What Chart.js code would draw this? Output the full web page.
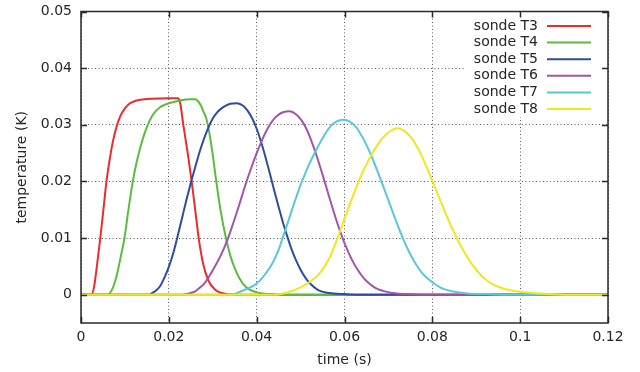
<!DOCTYPE html>
<html>
<head>
<meta charset="utf-8">
<script src="https://cdn.jsdelivr.net/npm/chart.js@4.4.0/dist/chart.umd.min.js"></script>
<style>
  html, body { margin: 0; padding: 0; background: #fff; }
  #wrap { width: 640px; height: 372px; }
</style>
</head>
<body>
<div id="wrap"><canvas id="chart" width="640" height="372"></canvas></div>
<script>
// tick values and labels
const xTicks = [0, 0.02, 0.04, 0.06, 0.08, 0.1, 0.12];
const xTickLabels = ['0', '0.02', '0.04', '0.06', '0.08', '0.1', '0.12'];
const yTicks = [0, 0.01, 0.02, 0.03, 0.04, 0.05];
const yTickLabels = ['0', '0.01', '0.02', '0.03', '0.04', '0.05'];

const seriesLabels = ['sonde T3', 'sonde T4', 'sonde T5', 'sonde T6', 'sonde T7', 'sonde T8'];
const seriesColors = ['#ee2a2a', '#5cbc3c', '#2f4c9e', '#a454a6', '#58c8d9', '#eee81e'];

// readings (time in s, temperature in K)
const t3Time = [0, 0.0024, 0.003, 0.0036, 0.004, 0.0044, 0.0051, 0.0058, 0.0065, 0.0072, 0.008, 0.009, 0.010, 0.011, 0.012, 0.0135, 0.016, 0.020, 0.0221, 0.0223, 0.0226, 0.0233, 0.0243, 0.0252, 0.026, 0.0268, 0.0278, 0.029, 0.0305, 0.032, 0.035, 0.12];
const t3Temp = [0, 0, 0.0015, 0.0049, 0.0075, 0.010, 0.015, 0.020, 0.0237, 0.0268, 0.0294, 0.0316, 0.0329, 0.0337, 0.0341, 0.0344, 0.0346, 0.0347, 0.0347, 0.0345, 0.0338, 0.030, 0.025, 0.020, 0.015, 0.010, 0.0055, 0.0025, 0.0009, 0.0003, 0, 0];

const t4Time = [0, 0.006, 0.007, 0.008, 0.009, 0.0099, 0.0108, 0.0118, 0.0127, 0.0135, 0.0144, 0.0152, 0.016, 0.017, 0.018, 0.019, 0.020, 0.0225, 0.025, 0.026, 0.0266, 0.0273, 0.028, 0.0285, 0.029, 0.0295, 0.030, 0.0308, 0.0318, 0.033, 0.034, 0.035, 0.036, 0.0376, 0.040, 0.043, 0.046, 0.12];
const t4Temp = [0, 0, 0.0008, 0.003, 0.0065, 0.010, 0.015, 0.020, 0.0235, 0.026, 0.0283, 0.030, 0.0313, 0.0324, 0.0331, 0.0335, 0.0338, 0.0343, 0.0345, 0.0345, 0.0342, 0.0334, 0.0321, 0.0312, 0.0295, 0.0273, 0.0247, 0.020, 0.0148, 0.010, 0.0069, 0.0047, 0.003, 0.0013, 0.0004, 0.0001, 0, 0];

const t5Time = [0, 0.0155, 0.016, 0.017, 0.018, 0.019, 0.020, 0.021, 0.022, 0.023, 0.024, 0.025, 0.026, 0.027, 0.028, 0.029, 0.030, 0.031, 0.032, 0.033, 0.034, 0.0355, 0.037, 0.038, 0.039, 0.040, 0.041, 0.042, 0.043, 0.044, 0.045, 0.046, 0.047, 0.048, 0.049, 0.050, 0.051, 0.052, 0.054, 0.0565, 0.060, 0.063, 0.12];
const t5Temp = [0, 0, 0.0002, 0.0007, 0.0015, 0.003, 0.0049, 0.0073, 0.0103, 0.0135, 0.0167, 0.0197, 0.0225, 0.0252, 0.0275, 0.0295, 0.0311, 0.0322, 0.0329, 0.0334, 0.0337, 0.0338, 0.0333, 0.0324, 0.0311, 0.0293, 0.027, 0.0243, 0.0214, 0.0184, 0.0155, 0.0127, 0.0102, 0.0079, 0.006, 0.0044, 0.0031, 0.0021, 0.0008, 0.0003, 0.0001, 0, 0];

const t6Time = [0, 0.023, 0.025, 0.026, 0.027, 0.028, 0.029, 0.030, 0.031, 0.032, 0.033, 0.034, 0.035, 0.036, 0.037, 0.038, 0.039, 0.040, 0.041, 0.042, 0.043, 0.044, 0.045, 0.046, 0.0474, 0.048, 0.049, 0.050, 0.051, 0.052, 0.053, 0.054, 0.055, 0.056, 0.057, 0.058, 0.059, 0.060, 0.061, 0.062, 0.063, 0.064, 0.065, 0.067, 0.0702, 0.074, 0.078, 0.12];
const t6Temp = [0, 0, 0.0003, 0.0006, 0.0012, 0.0019, 0.003, 0.0043, 0.0057, 0.0072, 0.009, 0.0111, 0.0134, 0.0158, 0.0183, 0.0207, 0.0229, 0.025, 0.0269, 0.0286, 0.030, 0.0311, 0.0318, 0.0322, 0.0324, 0.0323, 0.0318, 0.031, 0.0298, 0.0281, 0.026, 0.0237, 0.0212, 0.0186, 0.016, 0.0135, 0.0112, 0.0091, 0.0073, 0.0057, 0.0044, 0.0033, 0.0024, 0.0012, 0.0004, 0.0001, 0, 0];

const t7Time = [0, 0.034, 0.0365, 0.038, 0.0395, 0.0406, 0.042, 0.0435, 0.045, 0.0459, 0.047, 0.048, 0.049, 0.050, 0.051, 0.052, 0.053, 0.054, 0.055, 0.056, 0.057, 0.058, 0.059, 0.0595, 0.0605, 0.0615, 0.0625, 0.0635, 0.0645, 0.0655, 0.0665, 0.0675, 0.0685, 0.0695, 0.0705, 0.0715, 0.0725, 0.0735, 0.0745, 0.0755, 0.0765, 0.0775, 0.079, 0.080, 0.082, 0.0845, 0.088, 0.092, 0.096, 0.12];
const t7Temp = [0, 0, 0.0006, 0.0011, 0.0017, 0.0024, 0.0037, 0.0054, 0.0079, 0.010, 0.0125, 0.0149, 0.0172, 0.0194, 0.0213, 0.0231, 0.0247, 0.0262, 0.0276, 0.0289, 0.0299, 0.0305, 0.0308, 0.0309, 0.0308, 0.0304, 0.0297, 0.0286, 0.0272, 0.0256, 0.0238, 0.0218, 0.0198, 0.0177, 0.0156, 0.0135, 0.0115, 0.0096, 0.0079, 0.0064, 0.0051, 0.004, 0.0028, 0.0022, 0.0012, 0.0006, 0.0002, 0.0001, 0, 0];

const t8Time = [0, 0.044, 0.047, 0.0495, 0.052, 0.054, 0.0555, 0.057, 0.0584, 0.0595, 0.0605, 0.0615, 0.0625, 0.0635, 0.0645, 0.0655, 0.0665, 0.0675, 0.0685, 0.0695, 0.0705, 0.0715, 0.072, 0.073, 0.074, 0.075, 0.076, 0.077, 0.078, 0.079, 0.080, 0.081, 0.082, 0.083, 0.084, 0.085, 0.086, 0.087, 0.088, 0.089, 0.090, 0.0915, 0.093, 0.095, 0.099, 0.1045, 0.11, 0.12];
const t8Temp = [0, 0, 0.0004, 0.0011, 0.0022, 0.0035, 0.005, 0.0072, 0.010, 0.0123, 0.0145, 0.0166, 0.0186, 0.0205, 0.0222, 0.0238, 0.0252, 0.0264, 0.0275, 0.0283, 0.0289, 0.0293, 0.0294, 0.0292, 0.0287, 0.0279, 0.0268, 0.0254, 0.0238, 0.022, 0.0201, 0.0182, 0.0163, 0.0144, 0.0126, 0.0109, 0.0093, 0.0079, 0.0066, 0.0054, 0.0044, 0.0031, 0.0022, 0.0014, 0.0006, 0.0002, 0, 0];

const times = [t3Time, t4Time, t5Time, t6Time, t7Time, t8Time];
const temps = [t3Temp, t4Temp, t5Temp, t6Temp, t7Temp, t8Temp];

const textColor = '#262626';
Chart.defaults.font.family = '"DejaVu Sans", sans-serif';
Chart.defaults.font.size = 14;
Chart.defaults.color = textColor;

// gnuplot-like frame: key box, border, inward ticks on all sides
const frame = {
  id: 'frame',
  afterDatasetsDraw(chart) {
    const { ctx, chartArea: a, scales: { x, y } } = chart;
    ctx.save();

    // key (opaque box top right)
    ctx.fillStyle = '#fff';
    ctx.fillRect(466, 17, 134, 100);
    ctx.font = '14px "DejaVu Sans"';
    ctx.textAlign = 'right';
    ctx.textBaseline = 'middle';
    chart.data.datasets.forEach((ds, i) => {
      const yy = 26 + i * 16.6;
      ctx.fillStyle = textColor;
      ctx.fillText(ds.label, 538, yy);
      ctx.strokeStyle = ds.borderColor;
      ctx.lineWidth = 2;
      ctx.beginPath();
      ctx.moveTo(547, yy);
      ctx.lineTo(591, yy);
      ctx.stroke();
    });

    ctx.strokeStyle = '#2a2a2a';
    ctx.lineWidth = 1.5;
    ctx.beginPath();
    xTicks.forEach(v => {
      const px = Math.round(x.getPixelForValue(v)) + 0.5;
      ctx.moveTo(px, a.bottom); ctx.lineTo(px, a.bottom - 6);
      ctx.moveTo(px, a.top); ctx.lineTo(px, a.top + 6);
    });
    yTicks.forEach(v => {
      const py = Math.round(y.getPixelForValue(v)) + 0.5;
      ctx.moveTo(a.left, py); ctx.lineTo(a.left + 6, py);
      ctx.moveTo(a.right, py); ctx.lineTo(a.right - 6, py);
    });
    ctx.stroke();
    ctx.strokeRect(a.left, a.top, a.right - a.left, a.bottom - a.top);
    ctx.restore();
  }
};

new Chart(document.getElementById('chart').getContext('2d'), {
  type: 'line',
  data: {
    datasets: seriesLabels.map((label, i) => ({
      label,
      data: times[i].map((t, j) => ({ x: t, y: temps[i][j] })),
      borderColor: seriesColors[i],
      backgroundColor: seriesColors[i],
      borderWidth: 2,
      pointRadius: 0,
      cubicInterpolationMode: 'monotone',
      fill: false,
      order: seriesLabels.length - i
    }))
  },
  options: {
    responsive: false,
    animation: false,
    layout: { padding: { left: 0, top: 11.5, right: 32, bottom: 0 } },
    plugins: { legend: { display: false }, tooltip: { enabled: false } },
    scales: {
      x: {
        type: 'linear',
        min: 0,
        max: 0.12,
        afterBuildTicks: s => { s.ticks = xTicks.map(v => ({ value: v })); },
        afterFit: s => { s.height = 49; s.paddingLeft = 0; s.paddingRight = 0; },
        ticks: { padding: 6, maxRotation: 0, autoSkip: false, callback: (v, i) => xTickLabels[i] },
        grid: { color: 'rgba(0,0,0,0.65)', lineWidth: 1, drawTicks: false },
        border: { display: false, dash: [1, 2.5] },
        title: { display: true, text: 'time (s)', padding: { top: 0, bottom: 3.5 } }
      },
      y: {
        type: 'linear',
        min: -0.005,
        max: 0.05,
        afterBuildTicks: s => { s.ticks = yTicks.map(v => ({ value: v })); },
        afterFit: s => { s.width = 81; s.paddingTop = 0; s.paddingBottom = 0; },
        ticks: { padding: 9, autoSkip: false, callback: (v, i) => yTickLabels[i] },
        grid: { color: 'rgba(0,0,0,0.65)', lineWidth: 1, drawTicks: false },
        border: { display: false, dash: [1, 2.5] },
        title: { display: true, text: 'temperature (K)', padding: { top: 13.5, bottom: 0 } }
      }
    }
  },
  plugins: [frame]
});
</script>
</body>
</html>
